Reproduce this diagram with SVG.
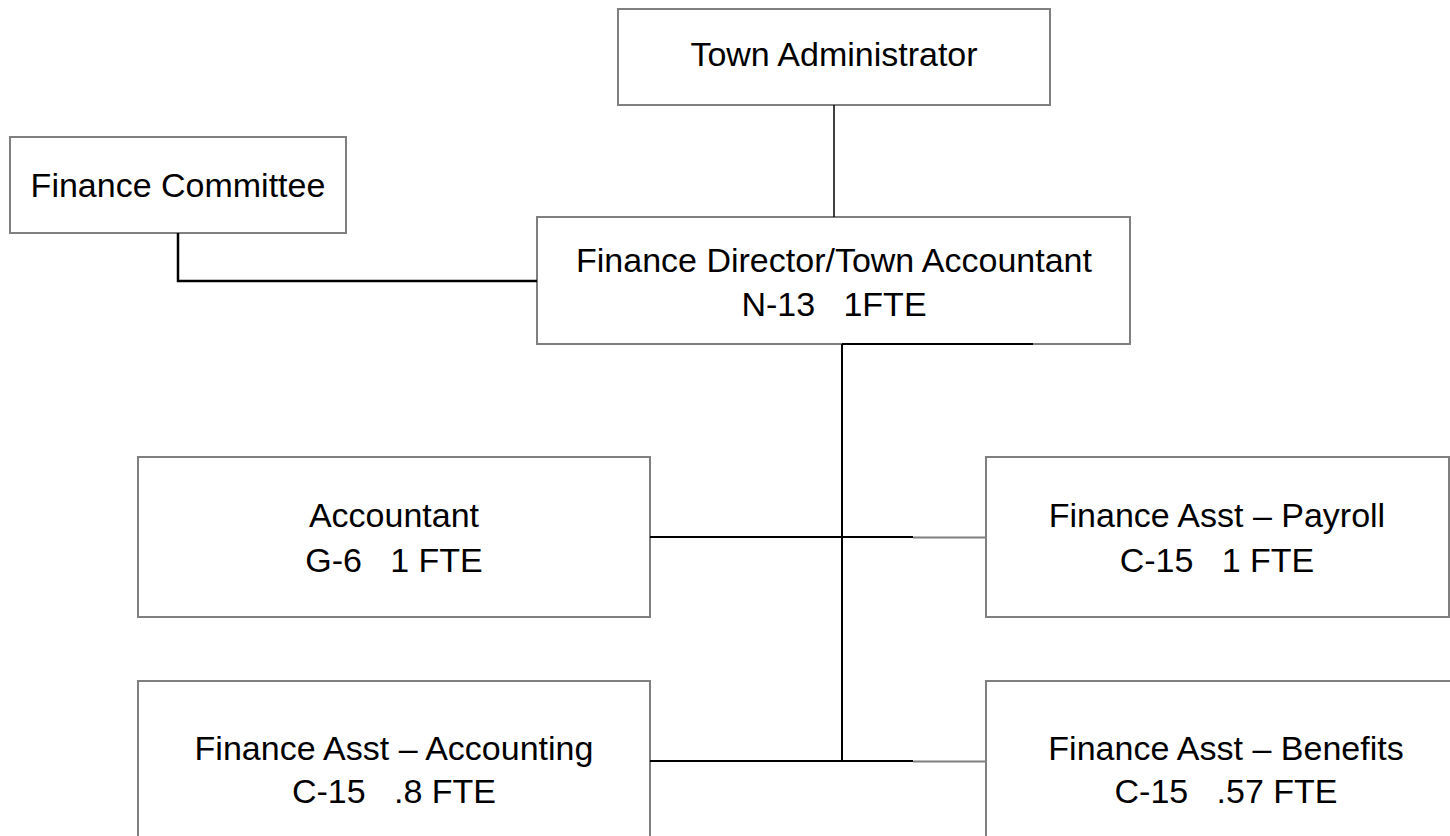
<svg xmlns="http://www.w3.org/2000/svg" width="1450" height="836" viewBox="0 0 1450 836">
<style>
.box{fill:#fff;stroke:#7f7f7f;stroke-width:2}
.lbl{font-family:"Liberation Sans",Arial,sans-serif;font-size:34px;fill:#000;text-anchor:middle}
.c{fill:none;stroke:#000;stroke-width:2}
.g{fill:none;stroke:#7f7f7f;stroke-width:2}
</style>
<rect width="1450" height="836" fill="#fff"/>
<g id="town-administrator">
<rect class="box" x="618" y="9" width="432" height="96"/>
<text class="lbl" x="834" y="66">Town Administrator</text>
</g>
<g id="finance-committee">
<rect class="box" x="10" y="137" width="336" height="96"/>
<text class="lbl" x="178" y="197">Finance Committee</text>
</g>
<g id="finance-director">
<rect class="box" x="537" y="217" width="593" height="127"/>
<text class="lbl" x="834" y="272">Finance Director/Town Accountant</text>
<text class="lbl" x="834" y="316" xml:space="preserve">N-13   1FTE</text>
</g>
<g id="accountant">
<rect class="box" x="138" y="457" width="512" height="160"/>
<text class="lbl" x="394" y="527">Accountant</text>
<text class="lbl" x="394" y="572" xml:space="preserve">G-6   1 FTE</text>
</g>
<g id="finance-asst-payroll">
<rect class="box" x="986" y="457" width="463" height="160"/>
<text class="lbl" x="1217" y="527">Finance Asst – Payroll</text>
<text class="lbl" x="1217" y="572" xml:space="preserve">C-15   1 FTE</text>
</g>
<g id="finance-asst-accounting">
<rect class="box" x="138" y="681" width="512" height="180"/>
<text class="lbl" x="394" y="760">Finance Asst – Accounting</text>
<text class="lbl" x="394" y="803" xml:space="preserve">C-15   .8 FTE</text>
</g>
<g id="finance-asst-benefits">
<rect class="box" x="986" y="681" width="480" height="180"/>
<text class="lbl" x="1226" y="760">Finance Asst – Benefits</text>
<text class="lbl" x="1226" y="803" xml:space="preserve">C-15   .57 FTE</text>
</g>
<g id="connectors">
<line class="c" x1="834" y1="105" x2="834" y2="217" style="stroke-width:1.5"/>
<polyline class="c" points="178,233 178,281 537,281" style="stroke-width:2.5"/>
<line class="c" x1="842" y1="344" x2="1033" y2="344"/>
<line class="c" x1="842" y1="344" x2="842" y2="761"/>
<line class="c" x1="650" y1="537" x2="913" y2="537"/>
<line class="g" x1="913" y1="537.5" x2="986" y2="537.5"/>
<line class="c" x1="650" y1="761" x2="913" y2="761"/>
<line class="g" x1="913" y1="761.5" x2="986" y2="761.5"/>
</g>
</svg>
